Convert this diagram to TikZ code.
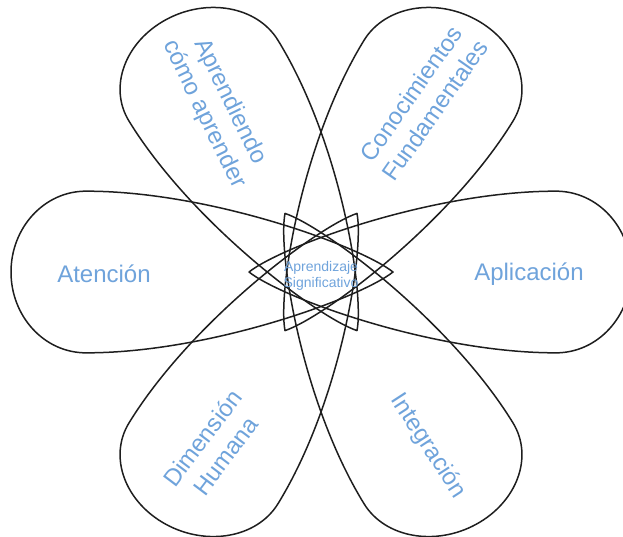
\documentclass[tikz,border=0pt]{standalone}
\usepackage{fontspec}
\setmainfont{Liberation Sans}
\definecolor{petalblue}{HTML}{6FA3DB}
\definecolor{inkline}{HTML}{1E1E1E}

\begin{document}
\begin{tikzpicture}[x=1pt,y=1pt,
 petal/.style={draw=inkline,line width=1.5pt,line join=round},
 petaltext/.style={text=petalblue,align=center,inner sep=0pt,font=\fontsize{24}{29}\selectfont}]
\useasboundingbox (0,0) rectangle (623,-536);

% six petals, each one a drop with its tip just past the centre
\begin{scope}[shift={(321,-272)},yscale=0.94]
\foreach \ang in {0,60,...,300}
 \draw[petal,rotate=\ang] (-72,0)
  .. controls (-40,27) and (110,86) .. (235,86)
  .. controls (277,86) and (310,47) .. (310,0)
  .. controls (310,-47) and (277,-86) .. (235,-86)
  .. controls (110,-86) and (-40,-27) .. cycle;
\end{scope}

\node[petaltext,rotate=-64] (aprender) at (217,-108) {Aprendiendo\\cómo aprender};
\node[petaltext,rotate=55] (conocer) at (423,-102) {Conocimientos\\Fundamentales};
\node[petaltext] (atencion) at (104,-274) {Atención};
\node[petaltext] (aplicacion) at (529,-274) {Aplicación};
\node[petaltext,rotate=53] (humana) at (214,-447) {Dimensión\\Humana};
\node[petaltext,rotate=-57] (integrar) at (428,-446) {Integración};
\node[petaltext,font=\fontsize{14}{16}\selectfont] (centro) at (321,-276) {Aprendizaje\\Significativo};
\end{tikzpicture}
\end{document}
